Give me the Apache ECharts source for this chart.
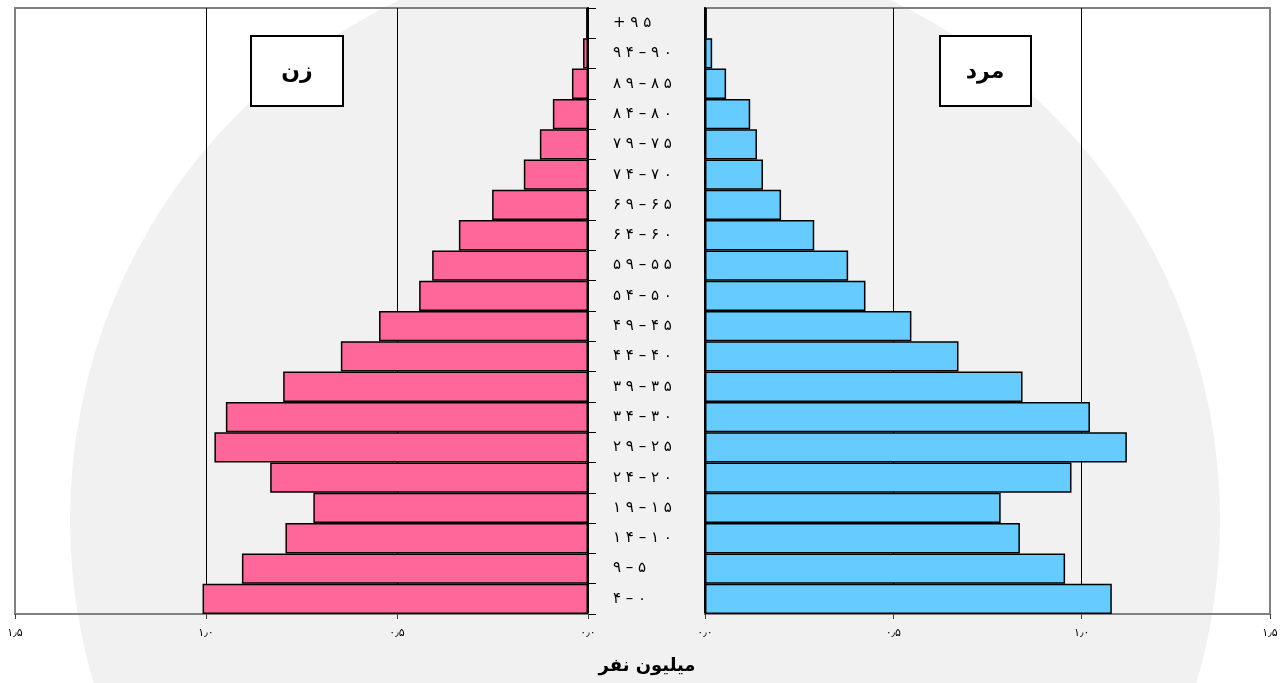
<!DOCTYPE html>
<html>
<head>
<meta charset="utf-8">
<script src="https://cdn.jsdelivr.net/npm/echarts@6/dist/echarts.min.js"></script>
<style>
html,body{margin:0;padding:0;background:#fff;}
#chart{width:1288px;height:683px;}
</style>
</head>
<body>
<div id="chart"></div>
<script>
// Age groups, bottom (0-4) to top (95+)
var ageGroups = ['۴ – ۰','۹ – ۵','۱ ۴ – ۱ ۰','۱ ۹ – ۱ ۵','۲ ۴ – ۲ ۰','۲ ۹ – ۲ ۵','۳ ۴ – ۳ ۰','۳ ۹ – ۳ ۵','۴ ۴ – ۴ ۰','۴ ۹ – ۴ ۵','۵ ۴ – ۵ ۰','۵ ۹ – ۵ ۵','۶ ۴ – ۶ ۰','۶ ۹ – ۶ ۵','۷ ۴ – ۷ ۰','۷ ۹ – ۷ ۵','۸ ۴ – ۸ ۰','۸ ۹ – ۸ ۵','۹ ۴ – ۹ ۰','+ ۹ ۵'];
// Women (million), bottom to top
var women = [1.009,0.906,0.792,0.719,0.832,0.978,0.948,0.798,0.647,0.547,0.442,0.408,0.338,0.251,0.168,0.126,0.092,0.042,0.013,0.005];
// Men (million), bottom to top
var men = [1.080,0.956,0.836,0.785,0.973,1.120,1.022,0.843,0.673,0.548,0.426,0.380,0.290,0.202,0.154,0.138,0.120,0.056,0.019,0.005];
// Tick labels
var tickLabels = {'0':'۰٫۰','0.5':'۰٫۵','1':'۱٫۰','1.5':'۱٫۵'};
var womenLabel = 'زن';
var menLabel = 'مرد';
var unitLabel = 'میلیون نفر';

var chart = echarts.init(document.getElementById('chart'));
var fontFam = '"DejaVu Sans", "Noto Sans", sans-serif';
function fmt(v){ var k = String(Math.round(v*10)/10); return tickLabels[k] !== undefined ? tickLabels[k] : k; }

var xCommon = {
  type:'value', min:0, max:1.5, interval:0.5,
  axisLine:{show:true, onZero:false, lineStyle:{color:'#808080', width:2}},
  axisTick:{show:true, length:5, lineStyle:{color:'#404040'}},
  axisLabel:{formatter:fmt, color:'#000', fontSize:11, fontFamily:fontFam, margin:14},
  splitLine:{show:true, lineStyle:{color:['#000','#000','#000','#808080'], width:1}}
};

var option = {
  backgroundColor:'#ffffff',
  animation:false,
  graphic:[
    {type:'circle', z:-10, silent:true, shape:{cx:645, cy:520, r:575}, style:{fill:'#f1f1f1'}},
    {type:'rect', z:50, shape:{x:251, y:36, width:92, height:70}, style:{fill:'#fff', stroke:'#000', lineWidth:2}},
    {type:'text', z:51, x:297, y:72, style:{text:womenLabel, font:'bold 22px ' + fontFam, fill:'#000', align:'center', verticalAlign:'middle'}},
    {type:'rect', z:50, shape:{x:940, y:36, width:91, height:70}, style:{fill:'#fff', stroke:'#000', lineWidth:2}},
    {type:'text', z:51, x:985, y:72, style:{text:menLabel, font:'bold 22px ' + fontFam, fill:'#000', align:'center', verticalAlign:'middle'}},
    {type:'text', z:51, x:647, y:666, style:{text:unitLabel, font:'bold 18px ' + fontFam, fill:'#000', align:'center', verticalAlign:'middle'}}
  ],
  grid:[
    {left:15, right:700, top:8, bottom:69, show:true, backgroundColor:'transparent', borderColor:'#808080', borderWidth:2},
    {left:705, right:18, top:8, bottom:69, show:true, backgroundColor:'transparent', borderColor:'#808080', borderWidth:2}
  ],
  xAxis:[
    Object.assign({gridIndex:0, inverse:true}, xCommon),
    Object.assign({gridIndex:1}, xCommon)
  ],
  yAxis:[
    {type:'category', gridIndex:0, position:'right', data:ageGroups,
     axisLine:{show:true, lineStyle:{color:'#000', width:2}},
     axisTick:{show:true, inside:false, length:8, lineStyle:{color:'#000', width:1}},
     axisLabel:{show:true, align:'left', margin:25, color:'#000', fontSize:15, fontFamily:fontFam},
     splitLine:{show:false}},
    {type:'category', gridIndex:1, position:'left', data:ageGroups,
     axisLine:{show:true, lineStyle:{color:'#000', width:2}},
     axisTick:{show:false}, axisLabel:{show:false}, splitLine:{show:false}}
  ],
  series:[
    {type:'bar', xAxisIndex:0, yAxisIndex:0, data:women, barCategoryGap:'0%',
     itemStyle:{color:'#ff6699', borderColor:'#000', borderWidth:1.5}},
    {type:'bar', xAxisIndex:1, yAxisIndex:1, data:men, barCategoryGap:'0%',
     itemStyle:{color:'#66ccff', borderColor:'#000', borderWidth:1.5}}
  ]
};
chart.setOption(option);
</script>
</body>
</html>
